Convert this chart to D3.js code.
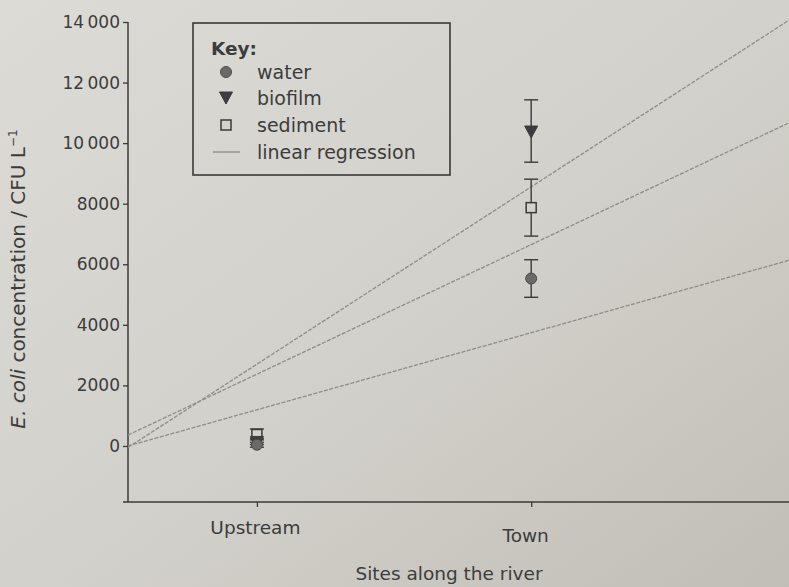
<!DOCTYPE html>
<html>
<head>
<meta charset="utf-8">
<script src="https://cdn.jsdelivr.net/npm/d3@7"></script>
<style>
  html, body { margin: 0; padding: 0; background: #d2d0ca; }
  svg { display: block; }
  text { font-family: "DejaVu Sans", "Liberation Sans", sans-serif; fill: #3c3c3c; }
</style>
</head>
<body>
<svg id="chart" width="789" height="587"></svg>
<script>
// ---- data ----
const sites = ["Upstream", "Town"];
const siteX = [1, 2];
const waterMean = [40, 5530];
const waterErr = [80, 620];
const biofilmMean = [150, 10400];
const biofilmErr = [100, 1030];
const sedimentMean = [380, 7870];
const sedimentErr = [180, 940];
const yTicks = [0, 2000, 4000, 6000, 8000, 10000, 12000, 14000];
const regX = [0.53, 2.94];
const regWater = [0, 6130];
const regSediment = [360, 10670];
const regBiofilm = [-50, 14060];
const legendLabels = ["water", "biofilm", "sediment", "linear regression"];

// ---- setup ----
const svg = d3.select("#chart");
const W = 789, H = 587;
const ink = "#3a3a3a";
const regColor = "#8e8c87";

const defs = svg.append("defs");
const grad = defs.append("linearGradient").attr("id", "bg")
  .attr("x1", "0").attr("y1", "0").attr("x2", "1").attr("y2", "1");
grad.append("stop").attr("offset", "0%").attr("stop-color", "#dddbd6");
grad.append("stop").attr("offset", "55%").attr("stop-color", "#d2d0ca");
grad.append("stop").attr("offset", "100%").attr("stop-color", "#c1beb7");
svg.append("rect").attr("width", W).attr("height", H).attr("fill", "url(#bg)");

const x = d3.scaleLinear().domain([0.53, 2.94]).range([128, 789]);
const y = d3.scaleLinear().domain([-1850, 14000]).range([502, 22]);

// ---- axes ----
const fmt = d => d >= 10000 ? d3.format(",")(d).replace(",", "\u2009") : String(d);
const yAxis = svg.append("g").attr("transform", "translate(128,0)")
  .call(d3.axisLeft(y).tickValues(yTicks).tickFormat(fmt).tickSize(5).tickPadding(3));
yAxis.select(".domain").remove();
yAxis.selectAll(".tick line").attr("stroke", ink).attr("stroke-width", 1.3);
yAxis.selectAll(".tick text").attr("font-size", 17).attr("fill", "#3c3c3c")
  .style("font-family", "'DejaVu Sans', sans-serif");
svg.append("line").attr("x1", 128).attr("x2", 128).attr("y1", y(14000)).attr("y2", 502)
  .attr("stroke", ink).attr("stroke-width", 1.5);

const xAxis = svg.append("g").attr("transform", "translate(0,502)")
  .call(d3.axisBottom(x).tickValues(siteX).tickFormat((d, i) => sites[i]).tickSize(5).tickPadding(14));
xAxis.select(".domain").remove();
xAxis.selectAll(".tick line").attr("stroke", ink).attr("stroke-width", 1.3);
xAxis.selectAll(".tick text").attr("font-size", 18.5).attr("fill", "#3c3c3c")
  .style("font-family", "'DejaVu Sans', sans-serif")
  .attr("dx", (d, i) => i === 1 ? -6 : -2)
  .attr("dy", (d, i) => i === 1 ? "1.15em" : "0.71em");
svg.append("line").attr("x1", 123).attr("x2", 789).attr("y1", 502).attr("y2", 502)
  .attr("stroke", ink).attr("stroke-width", 1.5);

svg.append("text").attr("x", 449).attr("y", 580).attr("text-anchor", "middle")
  .attr("font-size", 18.5).text("Sites along the river");

const yt = svg.append("text").attr("transform", "translate(25,279) rotate(-90)")
  .attr("text-anchor", "middle").attr("font-size", 20);
yt.append("tspan").attr("font-style", "italic").text("E. coli");
yt.append("tspan").text(" concentration / CFU L");
yt.append("tspan").attr("font-size", 12).attr("dy", -8).text("\u22121");

// ---- regression lines ----
const line = d3.line().x(d => x(d[0])).y(d => y(d[1]));
[regWater, regSediment, regBiofilm].forEach(r => {
  svg.append("path").datum(regX.map((xv, i) => [xv, r[i]]))
    .attr("d", line).attr("fill", "none").attr("stroke", regColor).attr("stroke-width", 1.3)
    .attr("stroke-dasharray", "4,1.5");
});

// ---- error bars + markers ----
function errorBars(means, errs) {
  means.forEach((m, i) => {
    const cx = x(siteX[i]);
    const g = svg.append("g").attr("stroke", ink).attr("stroke-width", 1.4);
    g.append("line").attr("x1", cx).attr("x2", cx).attr("y1", y(m - errs[i])).attr("y2", y(m + errs[i]));
    g.append("line").attr("x1", cx - 7).attr("x2", cx + 7).attr("y1", y(m - errs[i])).attr("y2", y(m - errs[i]));
    g.append("line").attr("x1", cx - 7).attr("x2", cx + 7).attr("y1", y(m + errs[i])).attr("y2", y(m + errs[i]));
  });
}
errorBars(sedimentMean, sedimentErr);
errorBars(biofilmMean, biofilmErr);
errorBars(waterMean, waterErr);

const triDown = "M-6.5,-5 L6.5,-5 L0,7 Z";
function drawSquare(g, cx, cy) {
  g.append("rect").attr("x", cx - 5).attr("y", cy - 5).attr("width", 10).attr("height", 10)
    .attr("fill", "#d4d2cc").attr("stroke", ink).attr("stroke-width", 1.5);
}
function drawTri(g, cx, cy) {
  g.append("path").attr("d", triDown).attr("transform", `translate(${cx},${cy})`)
    .attr("fill", "#3d3d3d").attr("stroke", ink).attr("stroke-width", 1);
}
function drawCircle(g, cx, cy) {
  g.append("circle").attr("cx", cx).attr("cy", cy).attr("r", 5.5)
    .attr("fill", "#6a6a68").attr("stroke", "#4a4a48").attr("stroke-width", 1);
}
const marks = svg.append("g");
sedimentMean.forEach((m, i) => drawSquare(marks, x(siteX[i]), y(m)));
biofilmMean.forEach((m, i) => drawTri(marks, x(siteX[i]), y(m)));
waterMean.forEach((m, i) => drawCircle(marks, x(siteX[i]), y(m)));

// ---- legend ----
const lg = svg.append("g");
lg.append("rect").attr("x", 193).attr("y", 23).attr("width", 257).attr("height", 152)
  .attr("fill", "none").attr("stroke", ink).attr("stroke-width", 1.6);
lg.append("text").attr("x", 211).attr("y", 55).attr("font-size", 18.5).attr("font-weight", "bold").text("Key:");
const rowY = [72, 98, 125, 152];
drawCircle(lg, 226, rowY[0]);
drawTri(lg, 226, rowY[1] - 1);
drawSquare(lg, 226, rowY[2]);
lg.append("line").attr("x1", 213).attr("x2", 240).attr("y1", rowY[3]).attr("y2", rowY[3])
  .attr("stroke", regColor).attr("stroke-width", 1.3);
legendLabels.forEach((t, i) => {
  lg.append("text").attr("x", 257).attr("y", rowY[i]).attr("dy", "0.35em")
    .attr("font-size", 19).text(t);
});
</script>
</body>
</html>
